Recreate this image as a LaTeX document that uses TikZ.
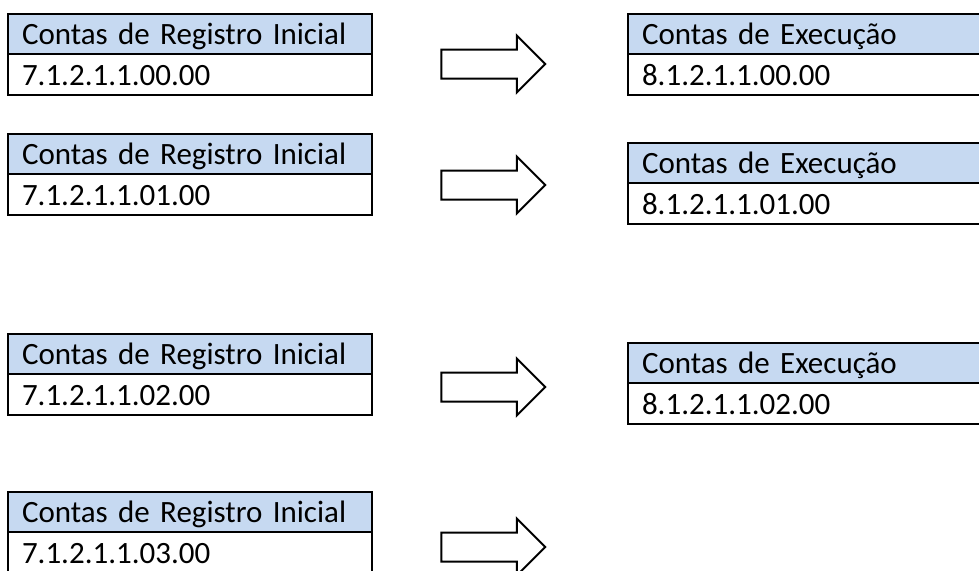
\documentclass[tikz,border=0pt]{standalone}
\usepackage{fontspec}
\setmainfont{Carlito}
\usepackage{tikz}
\usetikzlibrary{positioning,shapes.arrows}
\usepackage{xcolor}
\definecolor{cabazul}{HTML}{C6D9F1}
\tikzset{
  linha/.style={draw,line width=2.4pt,rectangle,outer sep=0pt,inner xsep=14pt,inner ysep=0pt,
    text height=25pt,text depth=4pt,align=left,font=\fontsize{31}{34}\selectfont},
  cabini/.style={linha,fill=cabazul,minimum width=364pt,text width=336pt,minimum height=40pt},
  valini/.style={linha,minimum width=364pt,text width=336pt,minimum height=41pt},
  cabexe/.style={linha,fill=cabazul,minimum width=380pt,text width=352pt,minimum height=40pt},
  valexe/.style={linha,minimum width=380pt,text width=352pt,minimum height=41pt},
  seta/.style={draw,line width=2pt,single arrow,inner sep=13.5pt,minimum height=104pt,
    minimum width=55pt,single arrow head extend=14pt,single arrow tip angle=90}
}

\begin{document}
\begin{tikzpicture}[x=1pt,y=-1pt]
  \clip (0,0) rectangle (979,570);
  \useasboundingbox (0,0) rectangle (979,570);

  \node[cabini,anchor=north west] (ini1) at (8,14) {Contas de Registro Inicial};
  \node[valini,below=0pt of ini1] (ini1v) {7.1.2.1.1.00.00};
  \node[cabini,anchor=north west] (ini2) at (8,134) {Contas de Registro Inicial};
  \node[valini,below=0pt of ini2] (ini2v) {7.1.2.1.1.01.00};
  \node[cabini,anchor=north west] (ini3) at (8,334) {Contas de Registro Inicial};
  \node[valini,below=0pt of ini3] (ini3v) {7.1.2.1.1.02.00};
  \node[cabini,anchor=north west] (ini4) at (8,492) {Contas de Registro Inicial};
  \node[valini,below=0pt of ini4] (ini4v) {7.1.2.1.1.03.00};

  \node[cabexe,anchor=north west] (exe1) at (628,14) {Contas de Execução};
  \node[valexe,below=0pt of exe1] (exe1v) {8.1.2.1.1.00.00};
  \node[cabexe,anchor=north west] (exe2) at (628,143) {Contas de Execução};
  \node[valexe,below=0pt of exe2] (exe2v) {8.1.2.1.1.01.00};
  \node[cabexe,anchor=north west] (exe3) at (628,343) {Contas de Execução};
  \node[valexe,below=0pt of exe3] (exe3v) {8.1.2.1.1.02.00};

  \node[seta] (seta1) at (486,64) {};
  \node[seta] (seta2) at (486,185) {};
  \node[seta] (seta3) at (486,387) {};
  \node[seta] (seta4) at (486,547) {};
\end{tikzpicture}
\end{document}
